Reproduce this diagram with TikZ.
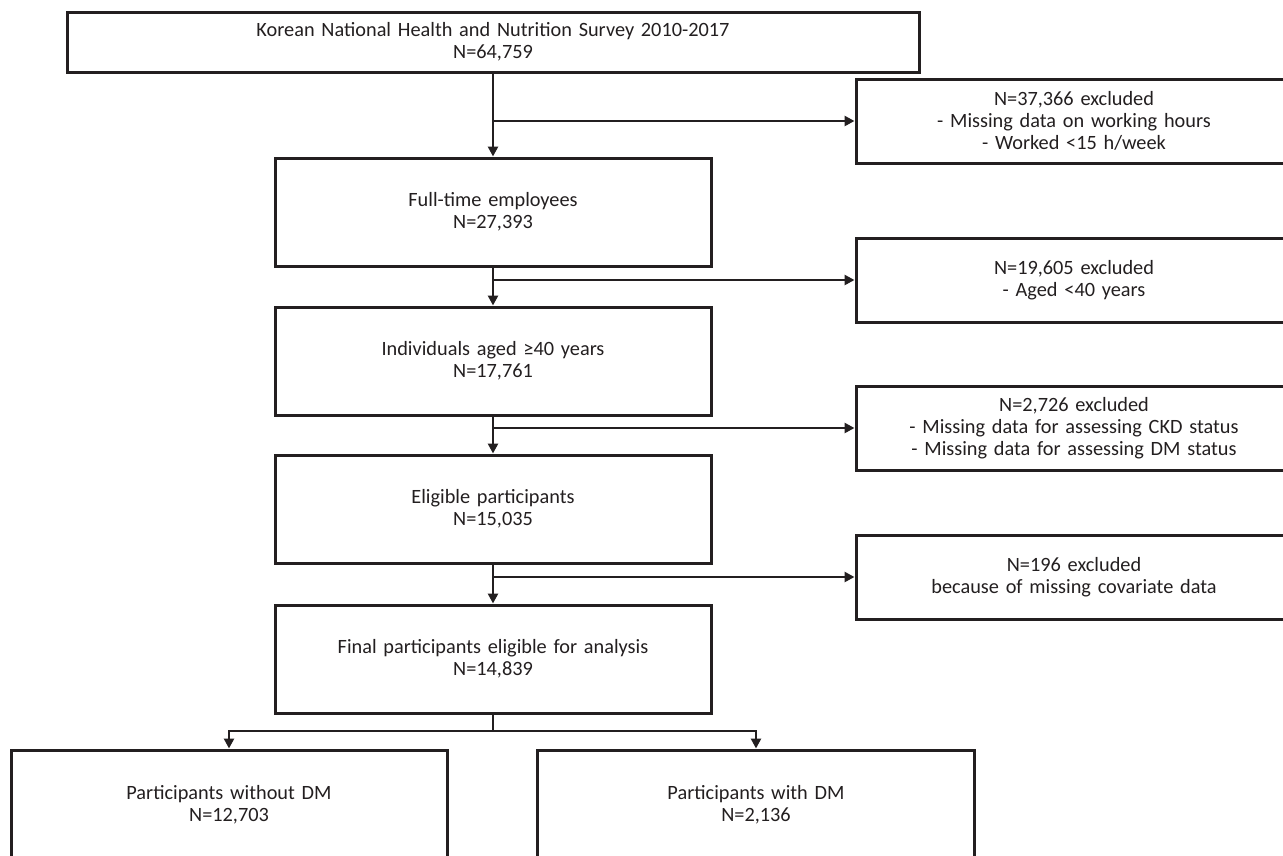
\documentclass[tikz,border=0pt]{standalone}
\usepackage{fontspec}
\setmainfont{Carlito}
\usetikzlibrary{arrows.meta}
\definecolor{ink}{HTML}{231F20}
\begin{document}
\begin{tikzpicture}[x=1pt,y=-1pt,
  box/.style={draw=ink,line width=3pt,text=ink,align=center,inner sep=0pt,
    font=\fontsize{20.3}{22}\selectfont},
  mainbox/.style={box,minimum width=436pt,minimum height=108pt,text width=430pt},
  exbox/.style={box,minimum width=436pt,minimum height=84pt,text width=430pt},
  arr/.style={draw=ink,line width=2.8pt,-{Triangle[length=10pt,width=10pt]}},
  ln/.style={draw=ink,line width=2.8pt}]
\useasboundingbox (0,0) rectangle (1283,855);
\clip (0,0) rectangle (1283,855);
\fill[white] (0,0) rectangle (1283,855);
% main column
\node[box,minimum width=852pt,minimum height=60pt,text width=840pt] (top) at (493,42)
  {Korean National Health and Nutrition Survey 2010-2017\\N=64,759};
\node[mainbox] (ft) at (493,212) {Full-time employees\\N=27,393};
\node[mainbox] (ind) at (493,361) {Individuals aged ≥40 years\\N=17,761};
\node[mainbox] (elig) at (493,509) {Eligible participants\\N=15,035};
\node[mainbox] (fin) at (493,659) {Final participants eligible for analysis\\N=14,839};
% exclusion boxes
\node[exbox] (ex1) at (1074,121) {N=37,366 excluded\\- Missing data on working hours\\- Worked <15 h/week};
\node[exbox] (ex2) at (1074,280) {N=19,605 excluded\\- Aged <40 years};
\node[exbox] (ex3) at (1074,428) {N=2,726 excluded\\- Missing data for assessing CKD status\\- Missing data for assessing DM status};
\node[exbox] (ex4) at (1074,577) {N=196 excluded\\because of missing covariate data};
% bottom boxes
\node[mainbox,minimum height=110pt] (nodm) at (229,805) {Participants without DM\\N=12,703};
\node[mainbox,minimum width=437pt,minimum height=110pt] (dm) at (756,805) {Participants with DM\\N=2,136};
% connectors
\draw[arr] (top.south) -- (ft.north);
\draw[arr] (top.south |- ex1.west) -- (ex1.west);
\draw[arr] (ft.south) -- (ind.north);
\draw[arr] (ft.south |- ex2.west) -- (ex2.west);
\draw[arr] (ind.south) -- (elig.north);
\draw[arr] (ind.south |- ex3.west) -- (ex3.west);
\draw[arr] (elig.south) -- (fin.north);
\draw[arr] (elig.south |- ex4.west) -- (ex4.west);
\coordinate (sp) at (493,731);
\draw[ln] (fin.south) -- (sp);
\draw[arr] (sp) -| (nodm.north);
\draw[arr] (sp) -| (dm.north);
\end{tikzpicture}
\end{document}
